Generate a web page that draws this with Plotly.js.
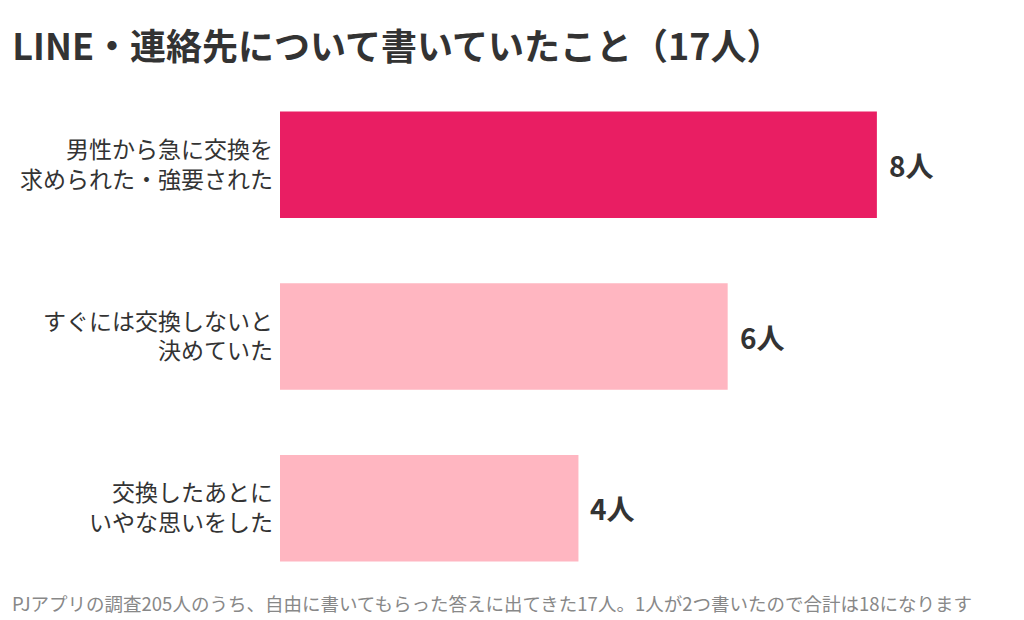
<!DOCTYPE html>
<html>
<head>
<meta charset="utf-8">
<script src="https://cdn.plot.ly/plotly-3.0.1.min.js"></script>
<style>
  html, body { margin: 0; padding: 0; background: #fff; }
  #chart { width: 1024px; height: 620px; }
</style>
</head>
<body>
<div id="chart"></div>
<script>
// answers, top to bottom
const categories = [
    '男性から急に交換を<br>求められた・強要された',
    'すぐには交換しないと<br>決めていた',
    '交換したあとに<br>いやな思いをした'
];
const counts = [8, 6, 4];
const barColors = ['#E91E63', '#FFB6C1', '#FFB6C1'];
const unit = '人';

const jpFont = '"Noto Sans CJK JP", "Noto Sans", sans-serif';

const data = [
    {
        x: counts,
        y: categories,
        type: 'bar',
        orientation: 'h',
        width: 0.62,
        marker: { color: barColors },
        hoverinfo: 'none'
    }
];

// value labels to the right of each bar
const valueLabels = counts.map((v, i) => ({
    x: v,
    y: categories[i],
    xref: 'x',
    yref: 'y',
    text: v + unit,
    showarrow: false,
    xanchor: 'left',
    xshift: 10,
    font: { family: jpFont, size: 28, color: '#333333', weight: 'bold' }
}));

const layout = {
    width: 1024,
    height: 620,
    paper_bgcolor: '#ffffff',
    plot_bgcolor: '#ffffff',
    showlegend: false,
    margin: { l: 280, r: 24, t: 79, b: 26, pad: 0 },
    title: {
        text: '<b>LINE・連絡先について書いていたこと（17人）</b>',
        font: { family: jpFont, size: 36, color: '#333333' },
        x: 0.012,
        xanchor: 'left',
        xref: 'container',
        y: 0.923,
        yanchor: 'middle'
    },
    xaxis: {
        range: [0, 9.65],
        visible: false,
        fixedrange: true
    },
    yaxis: {
        autorange: 'reversed',
        showgrid: false,
        zeroline: false,
        showline: false,
        ticks: '',
        ticklabelstandoff: 6,
        tickfont: { family: jpFont, size: 23, color: '#333333' }
    },
    annotations: valueLabels.concat([
        {
            xref: 'paper',
            yref: 'paper',
            x: -0.375,
            y: -0.0175,
            xanchor: 'left',
            yanchor: 'middle',
            showarrow: false,
            align: 'left',
            text: 'PJアプリの調査205人のうち、自由に書いてもらった答えに出てきた17人。1人が2つ書いたので合計は18になります',
            font: { family: jpFont, size: 18.5, color: '#888888' }
        }
    ])
};

Plotly.newPlot('chart', data, layout, { displayModeBar: false, staticPlot: true });
</script>
</body>
</html>
